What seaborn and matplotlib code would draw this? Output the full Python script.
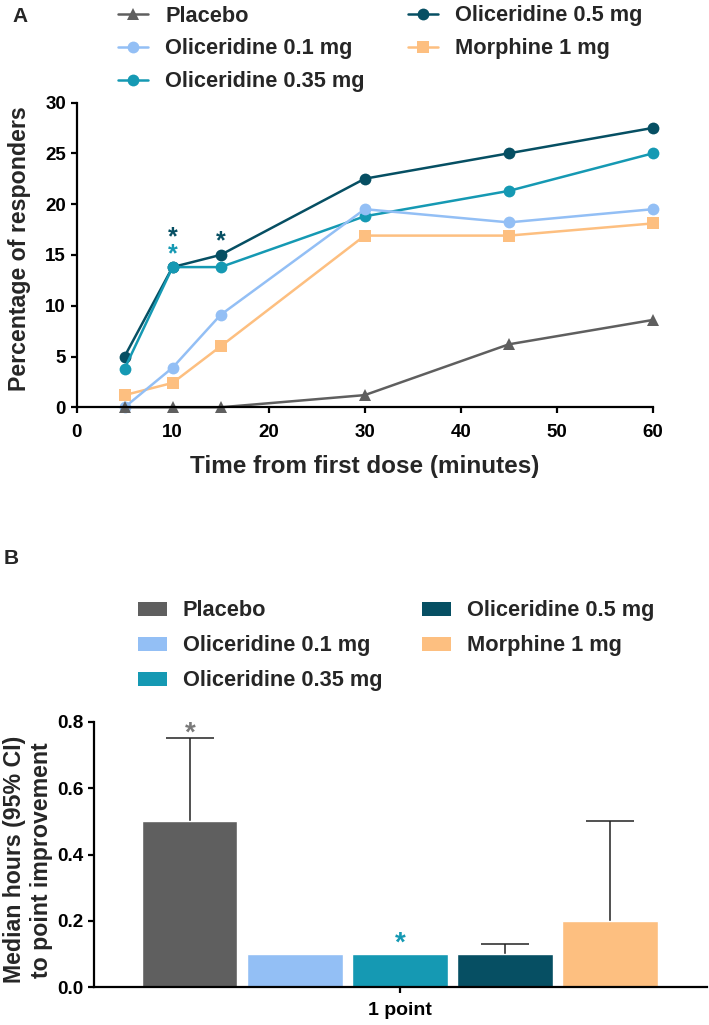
import numpy as np
import pandas as pd
import matplotlib
matplotlib.use("Agg")
import matplotlib.pyplot as plt
import seaborn as sns
from matplotlib.lines import Line2D
from matplotlib.patches import Patch

# ---------------- data ----------------
groups = ["Placebo", "Oliceridine 0.1 mg", "Oliceridine 0.35 mg",
          "Oliceridine 0.5 mg", "Morphine 1 mg"]
colors = ["#5f5f5f", "#93bff5", "#1599b3", "#064f63", "#fdbf80"]
markers = ["^", "o", "o", "o", "s"]

# panel A: percentage of responders over time
times = [5, 10, 15, 30, 45, 60]
placebo = [0.0, 0.0, 0.0, 1.2, 6.2, 8.6]
oli_01 = [0.0, 3.9, 9.1, 19.5, 18.2, 19.5]
oli_035 = [3.8, 13.8, 13.8, 18.8, 21.3, 25.0]
oli_05 = [5.0, 13.8, 15.0, 22.5, 25.0, 27.5]
morphine = [1.2, 2.4, 6.0, 16.9, 16.9, 18.1]

# significance stars in panel A (time, height, group)
star_a_time = [10, 10, 15]
star_a_y = [16.7, 15.1, 16.3]
star_a_group = ["Oliceridine 0.5 mg", "Oliceridine 0.35 mg", "Oliceridine 0.5 mg"]

# panel B: median hours to 1 point improvement
median_hours = [0.5, 0.1, 0.1, 0.1, 0.2]
ci_upper = [0.75, 0.1, 0.1, 0.13, 0.5]
star_b_group = ["Placebo", "Oliceridine 0.35 mg"]
star_b_y = [0.763, 0.131]
star_b_color = ["#7a7a7a", "#1599b3"]

# ---------------- style ----------------
sns.set_style("ticks")
plt.rcParams["font.family"] = ["Liberation Sans", "DejaVu Sans"]
plt.rcParams["font.weight"] = "bold"
plt.rcParams["axes.labelweight"] = "bold"
plt.rcParams["axes.linewidth"] = 1.6
plt.rcParams["xtick.major.width"] = 1.6
plt.rcParams["ytick.major.width"] = 1.6
plt.rcParams["xtick.major.size"] = 4.5
plt.rcParams["ytick.major.size"] = 4.5
plt.rcParams["xtick.color"] = "black"
plt.rcParams["ytick.color"] = "black"
plt.rcParams["axes.edgecolor"] = "black"

palette = dict(zip(groups, colors))
marker_map = dict(zip(groups, markers))

W, H = 709, 1025
fig = plt.figure(figsize=(W / 100, H / 100), dpi=100)


def px_axes(x0, x1, ytop, ybot):
    return fig.add_axes([x0 / W, 1 - ybot / H, (x1 - x0) / W, (ybot - ytop) / H])


# ---------------- panel A ----------------
ax_a = px_axes(76.5, 653, 102.5, 407.3)

series = [placebo, oli_01, oli_035, oli_05, morphine]
rows = []
for g, vals in zip(groups, series):
    for t, v in zip(times, vals):
        rows.append((g, t, v))
df_a = pd.DataFrame(rows, columns=["group", "time", "pct"])

# draw in reverse order so placebo ends up on top, as in the original
sns.lineplot(data=df_a, x="time", y="pct", hue="group", style="group",
             hue_order=groups[::-1], style_order=groups[::-1],
             palette=palette, markers=marker_map, dashes=False,
             markersize=8.5, linewidth=1.8, markeredgewidth=0,
             legend=False, ax=ax_a)
for ln in ax_a.lines:
    ln.set_clip_on(False)

ax_a.set_xlim(0, 60)
ax_a.set_ylim(0, 30)
ax_a.set_xticks(range(0, 61, 10))
ax_a.set_yticks(range(0, 31, 5))
ax_a.tick_params(axis="y", labelsize=13.5, pad=3)
ax_a.tick_params(axis="x", labelsize=13.5, pad=7.5)
ax_a.set_xlabel("Time from first dose (minutes)", fontsize=17.5)
ax_a.xaxis.set_label_coords(0.5, -0.157)
ax_a.set_ylabel("Percentage of responders", fontsize=16.7)
ax_a.yaxis.set_label_coords(-0.079, 0.52)
sns.despine(ax=ax_a)

for t, y, g in zip(star_a_time, star_a_y, star_a_group):
    ax_a.text(t, y, "*", color=palette[g], fontsize=18, fontweight="bold",
              ha="center", va="center")

handles_a = [Line2D([0], [0], color=palette[g], marker=marker_map[g],
                    markersize=8.5, linewidth=1.8, markeredgewidth=0)
             for g in groups]
fig.legend(handles_a, groups, ncol=2, loc="upper left",
           bbox_to_anchor=(118 / W, 1 - 5.5 / H), frameon=False,
           fontsize=15.7, handlelength=1.38, handletextpad=0.78,
           columnspacing=2.0, labelspacing=0.55, borderpad=0,
           borderaxespad=0)

fig.text(20 / W, 1 - 16 / H, "A", fontsize=15, fontweight="bold",
         ha="center", va="center")

# ---------------- panel B ----------------
ax_b = px_axes(94.3, 707, 721.7, 987.3)

df_b = pd.DataFrame({"improvement": ["1 point"] * len(groups),
                     "group": groups, "hours": median_hours})
sns.barplot(data=df_b, x="improvement", y="hours", hue="group",
            hue_order=groups, palette=palette, saturation=1, gap=0.095,
            errorbar=None, legend=False, ax=ax_b)

# upper half of the 95% CI, cap half as wide as the bar
for cont, g, hi in zip(ax_b.containers, groups, ci_upper):
    bar = cont.patches[0]
    w = bar.get_width()
    cx = bar.get_x() + w / 2
    h = bar.get_height()
    if hi > h:
        ax_b.vlines(cx, h, hi, color="#222222", linewidth=1.1, zorder=0.5)
        ax_b.hlines(hi, cx - w / 4, cx + w / 4, color="#222222",
                    linewidth=1.1, zorder=0.5)
    if g in star_b_group:
        k = star_b_group.index(g)
        ax_b.text(cx, star_b_y[k], "*", color=star_b_color[k], fontsize=20,
                  fontweight="bold", ha="center", va="center", clip_on=False)

ax_b.set_xlim(-0.4658, 0.4678)
ax_b.set_ylim(0, 0.8)
ax_b.set_yticks([0, 0.2, 0.4, 0.6, 0.8])
ax_b.set_yticklabels(["0.0", "0.2", "0.4", "0.6", "0.8"])
ax_b.tick_params(axis="y", labelsize=13.7, pad=3)
ax_b.tick_params(axis="x", labelsize=14, pad=6)
ax_b.set_xlabel("")
ax_b.set_ylabel("Median hours (95% CI)\nto point improvement", fontsize=16.7)
ax_b.yaxis.set_label_coords(-0.0675, 0.48)
sns.despine(ax=ax_b)

handles_b = [Patch(facecolor=palette[g], edgecolor="none") for g in groups]
fig.legend(handles_b, groups, ncol=2, loc="upper left",
           bbox_to_anchor=(138 / W, 1 - 600.5 / H), frameon=False,
           fontsize=15.7, handlelength=1.33, handleheight=0.6,
           handletextpad=0.73, columnspacing=1.8, labelspacing=0.64,
           borderpad=0, borderaxespad=0)

fig.text(11 / W, 1 - 559 / H, "B", fontsize=15, fontweight="bold",
         ha="center", va="center")

fig.savefig("out.png", dpi=100)
